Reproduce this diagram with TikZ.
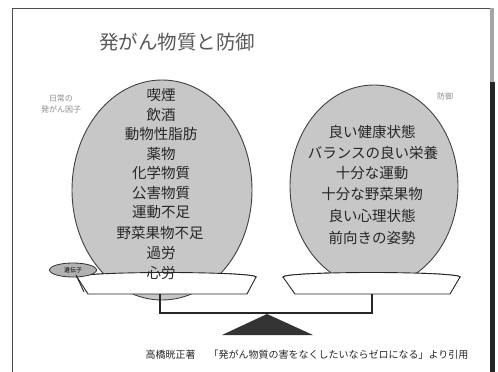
\documentclass[tikz,border=0pt]{standalone}
\usepackage{fontspec}
\newfontfamily\cjk{Noto Sans CJK JP}
\usetikzlibrary{shapes.geometric}
\begin{document}
\begin{tikzpicture}[x=1pt,y=-1pt,
  ball/.style={draw=black!75, line width=0.9pt, fill=black!22},
  pan/.style={draw=black!85, line width=0.9pt, fill=white},
  item/.style={font=\cjk\fontsize{14.5}{15}\selectfont, text=black!85, inner sep=0pt},
  lbl/.style={font=\cjk\fontsize{8}{10.5}\selectfont, text=black!45, inner sep=0pt, align=center},
  beam/.style={draw=black!85, line width=1.1pt}]
\useasboundingbox (0,0) rectangle (498,372);
\fill[white] (0,0) rectangle (498,372);
% frame
\draw[black!70, line width=0.8pt] (12,372) -- (12,8) -- (492,8);
\fill[black!35] (490,8) rectangle (494,82);
\fill[black!85] (490,82) rectangle (495,372);
% title
\node[font=\cjk\fontsize{19.5}{21}\selectfont, text=black!65, inner sep=0pt] (title) at (177,42) {発がん物質と防御};
% pan backs
\draw[pan] (166.5,277) ellipse (89.5 and 4.5);
\draw[pan] (371.5,277) ellipse (88.5 and 4.5);
% balls
\draw[ball] (162,190) ellipse (90 and 110);
\draw[ball] (374,186) ellipse (84 and 101);
% pan fronts
\draw[pan] (77,277) -- (88,294) -- (247,294) -- (256,277) arc[start angle=0, end angle=180, x radius=89.5, y radius=-4.5] -- cycle;
\draw[pan] (283,277) -- (295,294) -- (450,294) -- (460,277) arc[start angle=0, end angle=180, x radius=88.5, y radius=-4.5] -- cycle;
\coordinate (lpan) at (160,294);
\coordinate (rpan) at (372,294);
% beam
\draw[beam] (lpan) -- (160,313) -- (372,313) -- (rpan);
% fulcrum
\fill[black!80] (267,314) -- (313,335) -- (222,335) -- cycle;
% left items
\node[item] (l1) at (161,95) {喫煙};
\node[item] (l2) at (161,114.5) {飲酒};
\node[item] (l3) at (161,134) {動物性脂肪};
\node[item] (l4) at (161,153.5) {薬物};
\node[item] (l5) at (161,173) {化学物質};
\node[item] (l6) at (161,193) {公害物質};
\node[item] (l7) at (161,212.5) {運動不足};
\node[item] (l8) at (160,233) {野菜果物不足};
\node[item] (l9) at (161,253) {過労};
\node[item] (l10) at (161,273) {心労};
% right items
\node[item] (r1) at (372,132) {良い健康状態};
\node[item] (r2) at (373,152.5) {バランスの良い栄養};
\node[item] (r3) at (372,173) {十分な運動};
\node[item] (r4) at (372,194) {十分な野菜果物};
\node[item] (r5) at (372,216) {良い心理状態};
\node[item] (r6) at (372,238) {前向きの姿勢};
% side labels
\node[lbl] (llbl) at (61,104) {日常の\\発がん因子};
\node[lbl] (rlbl) at (445,96) {防御};
% tag
\node[ellipse, draw=black!80, line width=0.8pt, fill=black!30, minimum width=47pt, minimum height=14pt, inner sep=0pt,
  font=\cjk\fontsize{6}{7}\selectfont] (tag) at (73,270) {遺伝子};
\coordinate (tagend) at (84,292);
\draw[black!85, line width=0.9pt] (tag.south east) ++(-14,-0.5) -- (tagend);
% caption
\node[font=\cjk\fontsize{10}{12}\selectfont, text=black!85, inner sep=0pt] (cap) at (307,355)
  {高橋晄正著\hspace{13pt}「発がん物質の害をなくしたいならゼロになる」より引用};
\end{tikzpicture}
\end{document}
